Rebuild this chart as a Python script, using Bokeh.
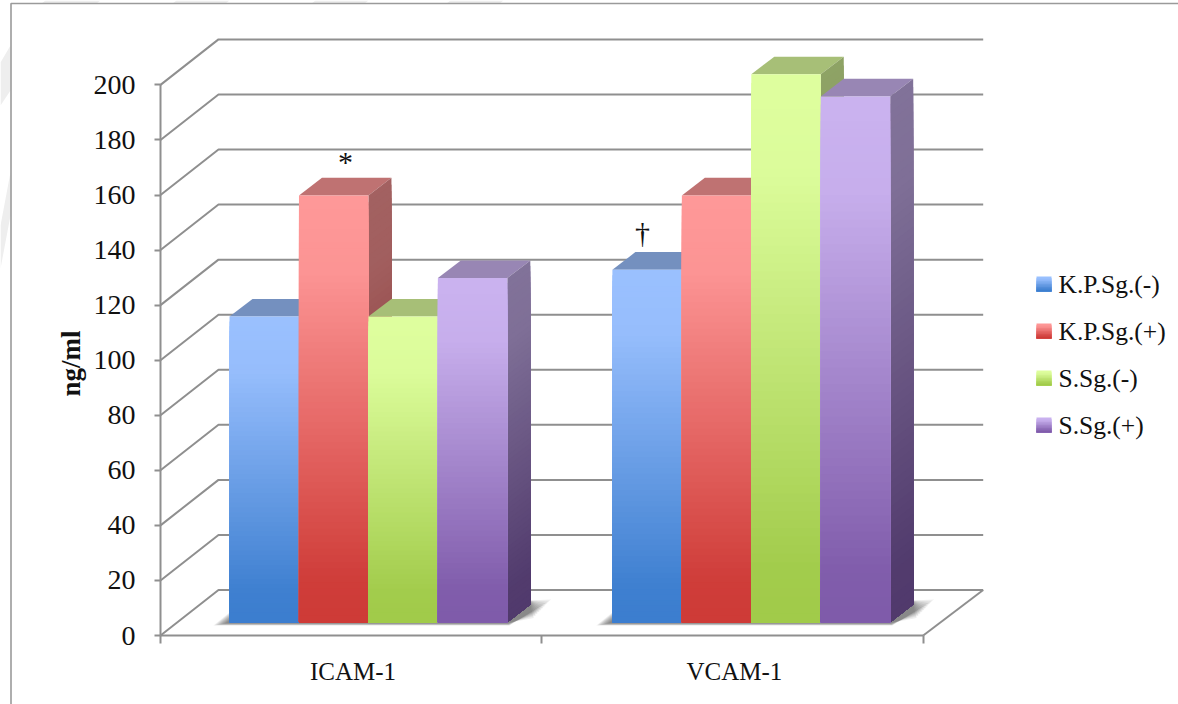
import numpy as np
from bokeh.core.properties import value
from bokeh.embed import file_html
from bokeh.models import FixedTicker, LinearAxis, Range1d
from bokeh.plotting import figure
from bokeh.resources import INLINE

# Serum levels by marker and patient group
categories = ["ICAM-1", "VCAM-1"]
series_names = ["K.P.Sg.(-)", "K.P.Sg.(+)", "S.Sg.(-)", "S.Sg.(+)"]
kp_neg = [111, 128]
kp_pos = [155, 155]
s_neg = [111, 199]
s_pos = [125, 191]
y_ticks = [0, 20, 40, 60, 80, 100, 120, 140, 160, 180, 200]
y_axis_title = "ng/ml"

W, H = 1178, 704
X0, UX = 160.0, 381.35   # pixel position of x=0, pixels per category
Y0, UY = 635.0, 2.753    # pixel position of y=0, pixels per ng/ml
FONT = "Liberation Serif"


def dx(px):
    return (np.asarray(px, dtype=float) - X0) / UX


def dy(py):
    return (Y0 - np.asarray(py, dtype=float)) / UY


# Depth of the chart box and of each bar, in data units
BOX_DX, BOX_DY = 58 / UX, 45.5 / UY
BOX_RIGHT = 2 + 60 / UX
BAR_DX, BAR_DY = 23 / UX, 17.7 / UY
BAR_W = 69.45 / UX
BAR_BASE = 13.3 / UY
GROUP_START = [0.181, 1.185]

TOP_COLORS = [(155, 193, 255), (255, 153, 153), (223, 255, 159), (203, 179, 240)]
BOTTOM_COLORS = [(60, 126, 207), (206, 59, 55), (161, 203, 74), (127, 91, 170)]
SLICES = 64


def mix(series, t, factor=1.0):
    # Gradient stays close to the light colour near the top, then falls off
    f = np.interp(t, [0, 0.18, 0.9, 1], [0, 0.05, 0.97, 1])
    a, b = np.array(TOP_COLORS[series]), np.array(BOTTOM_COLORS[series])
    r, g, bl = ((a + (b - a) * f) * factor).astype(int)
    return f"#{r:02x}{g:02x}{bl:02x}"


p = figure(
    width=W, height=H, output_backend="svg", toolbar_location=None,
    x_range=Range1d(dx(0), dx(W)), y_range=Range1d(dy(H), dy(0)),
    x_axis_type=None, y_axis_type=None, min_border=0, outline_line_color=None,
    background_fill_color="white", border_fill_color="white",
)
p.grid.visible = False

# Pale background shapes behind the frame
wash_x = [[0, 10, 10, 0], [0, 10, 10, 0], [45, 100, 96, 41], [176, 229, 225, 172],
          [315, 368, 364, 311], [450, 503, 499, 446]]
wash_y = [[62, 45, 90, 105], [225, 172, 215, 268], [0, 0, 3, 3], [0, 0, 3, 3],
          [0, 0, 3, 3], [0, 0, 3, 3]]
p.patches([list(dx(v)) for v in wash_x], [list(dy(v)) for v in wash_y],
          fill_color="#eeeeee", line_color=None)

# Outer frame of the drawing
p.line(dx([1178, 10.5, 10.5]), dy([3, 3, 704]), line_color="#9a9a9a", line_width=1.6)

# Side wall, back wall and floor rules
GRID = "#8f8f8f"
for v in y_ticks:
    p.line([0, BOX_DX, BOX_RIGHT], [v, v + BOX_DY, v + BOX_DY], line_color=GRID, line_width=2)
p.line([2, BOX_RIGHT], [0, BOX_DY], line_color=GRID, line_width=2)

# Soft shadow on the floor under each group of bars
for start in GROUP_START:
    L = X0 + start * UX
    R = L + 4 * BAR_W * UX
    for s in np.linspace(1, 0.2, 10):
        sx = [L, L - 16 * s, L, R + 2 * s, R + 22 + 22 * s, R + 22]
        sy = [622 - 10 * s, 622 + 3 * s, 622 + 3 * s, 622 + 3 * s, 622 - 23 * s, 600]
        p.patch(dx(sx), dy(sy), fill_color="#404040", fill_alpha=0.09, line_color=None)

# Bars, painted left to right so that each one overlaps its left neighbour.
# Gradient bands overlap downwards, which keeps their edges from showing.
all_series = [kp_neg, kp_pos, s_neg, s_pos]
for c, start in enumerate(GROUP_START):
    for s, values in enumerate(all_series):
        x0, x1 = start + s * BAR_W, start + (s + 1) * BAR_W
        y0, y1 = BAR_BASE, BAR_BASE + values[c]
        edges = np.linspace(y1, y0, SLICES + 1)
        ts = (np.arange(SLICES) + 0.5) / SLICES
        # top face
        p.patch([x0, x0 + BAR_DX, x1 + BAR_DX, x1],
                [y1, y1 + BAR_DY, y1 + BAR_DY, y1],
                fill_color=mix(s, 0, 0.75), line_color=None)
        # side face
        p.patches(
            [[x1, x1 + BAR_DX, x1 + BAR_DX, x1] for _ in ts],
            [[edges[i], edges[i] + BAR_DY, y0 + BAR_DY, y0] for i in range(SLICES)],
            fill_color=[mix(s, t, 0.64) for t in ts], line_color=None,
        )
        # front face
        p.quad(left=x0, right=x1, top=edges[:-1], bottom=y0,
               fill_color=[mix(s, t) for t in ts], line_color=None)

# Significance marks above the bars
p.text(dx([345, 642]), dy([161, 232]), text=["*", "†"], text_align="center",
       text_baseline="middle", text_font=value(FONT), text_font_size="30px", text_color="#111111")

# Legend with gradient swatches
legend_rows = [276, 323, 370, 417]
for s, (name, row) in enumerate(zip(series_names, legend_rows)):
    e = np.linspace(row, row + 15, 11)
    p.quad(left=dx(1036), right=dx(1051), top=dy(e[:-1]), bottom=dy(row + 15),
           fill_color=[mix(s, (i + 0.5) / 10) for i in range(10)], line_color=None)
    p.text(dx([1058]), dy([row + 7.5]), text=[name], text_align="left", text_baseline="middle",
           text_font=value(FONT), text_font_size="25.5px", text_color="#111111")

# Rotated title of the value axis
p.text(dx([70]), dy([363]), text=[y_axis_title], angle=np.pi / 2, text_align="center",
       text_baseline="middle", text_font=value(FONT), text_font_style="bold",
       text_font_size="27px", text_color="#111111")

# Axes sit on the front edges of the box
yaxis = LinearAxis(
    fixed_location=0, bounds=(0, 200), ticker=FixedTicker(ticks=y_ticks),
    major_label_text_font=FONT, major_label_text_font_size="28px", major_label_text_color="#111111",
    major_label_standoff=19, major_tick_in=0, major_tick_out=6, minor_tick_line_color=None,
    axis_line_color=GRID, axis_line_width=2, major_tick_line_color=GRID, major_tick_line_width=2,
)
p.add_layout(yaxis, "left")

label_ticks = [i + 0.505 for i in range(len(categories))]
xaxis = LinearAxis(
    fixed_location=0, bounds=(0, 2),
    ticker=FixedTicker(ticks=label_ticks, minor_ticks=[0, 1, 2]),
    major_label_overrides=dict(zip(label_ticks, categories)),
    major_label_text_font=FONT, major_label_text_font_size="25px", major_label_text_color="#111111",
    major_label_standoff=14, major_tick_in=0, major_tick_out=0, major_tick_line_color=None,
    minor_tick_in=0, minor_tick_out=8, minor_tick_line_color=GRID, minor_tick_line_width=2,
    axis_line_color=GRID, axis_line_width=2,
)
p.add_layout(xaxis, "below")

open("out.html", "w").write(file_html(p, INLINE))
